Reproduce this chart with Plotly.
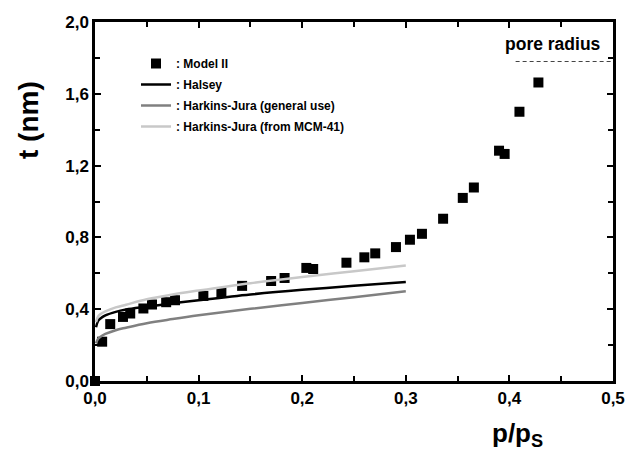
import plotly.graph_objects as go

# Model II data
model_x = [0.0, 0.0069, 0.0147, 0.027, 0.034, 0.0467, 0.055, 0.0687, 0.0772, 0.1046,
           0.122, 0.142, 0.170, 0.183, 0.204, 0.2106, 0.2427, 0.260, 0.2705, 0.2905,
           0.304, 0.3156, 0.336, 0.355, 0.3657, 0.390, 0.3954, 0.4097, 0.428]
model_y = [0.0, 0.219, 0.317, 0.357, 0.376, 0.404, 0.426, 0.439, 0.450, 0.474,
           0.493, 0.530, 0.557, 0.574, 0.630, 0.624, 0.659, 0.689, 0.711, 0.746,
           0.787, 0.820, 0.904, 1.020, 1.078, 1.283, 1.265, 1.500, 1.663]

curve_x = [0.001, 0.003, 0.005, 0.01, 0.02, 0.03, 0.05, 0.075, 0.1, 0.15, 0.2, 0.25, 0.3]
halsey_y = [0.300, 0.335, 0.347, 0.365, 0.385, 0.398, 0.414, 0.433, 0.450, 0.482, 0.508, 0.530, 0.552]
hj_general_y = [0.210, 0.235, 0.245, 0.262, 0.283, 0.297, 0.322, 0.345, 0.366, 0.402, 0.435, 0.467, 0.500]
hj_mcm_y = [0.328, 0.360, 0.372, 0.388, 0.410, 0.425, 0.455, 0.482, 0.504, 0.545, 0.580, 0.612, 0.643]

pore_x = [0.406, 0.5]
pore_y = [1.78, 1.78]

x_ticks = [0.0, 0.1, 0.2, 0.3, 0.4, 0.5]
y_ticks = [0.0, 0.4, 0.8, 1.2, 1.6, 2.0]

FONT = "Liberation Sans"

fig = go.Figure()
fig.add_trace(go.Scatter(x=model_x, y=model_y, mode="markers", name=": Model II",
                         legendgroup="a", cliponaxis=False,
                         marker=dict(symbol="square", size=10, color="black")))
fig.add_trace(go.Scatter(x=curve_x, y=halsey_y, mode="lines", name=": Halsey",
                         legendgroup="b",
                         line=dict(color="black", width=2.5, shape="spline")))
fig.add_trace(go.Scatter(x=curve_x, y=hj_general_y, mode="lines",
                         name=": Harkins-Jura (general use)", legendgroup="c",
                         line=dict(color="#808080", width=2.5, shape="spline")))
fig.add_trace(go.Scatter(x=curve_x, y=hj_mcm_y, mode="lines",
                         name=": Harkins-Jura (from MCM-41)", legendgroup="d",
                         line=dict(color="#c8c8c8", width=2.5, shape="spline")))
fig.add_trace(go.Scatter(x=pore_x, y=pore_y, mode="lines", showlegend=False,
                         line=dict(color="#444444", width=1.2, dash="4px,3px")))

axis_common = dict(showline=True, linecolor="black", linewidth=2.5, mirror="allticks",
                   ticks="inside", ticklen=6, tickwidth=2, tickcolor="black",
                   showgrid=False, zeroline=False, automargin=False,
                   tickfont=dict(family=FONT, size=17, color="black", weight="bold"),
                   tickformat=".1f")

fig.update_xaxes(range=[0, 0.5], tickvals=x_ticks,
                 minor=dict(ticks="inside", ticklen=5, tickwidth=2, tickcolor="black", dtick=0.05),
                 **axis_common)
fig.update_yaxes(range=[0, 2.0], tickvals=y_ticks,
                 minor=dict(ticks="inside", ticklen=5, tickwidth=2, tickcolor="black", dtick=0.2),
                 **axis_common)

fig.add_annotation(text="pore radius", x=0.4417, y=1.88, xref="x", yref="y",
                   showarrow=False, font=dict(family=FONT, size=17.5, color="black", weight="bold"))
fig.add_annotation(text="t (nm)", x=28, y=120, xref="paper", yref="paper",
                   showarrow=False, textangle=-90,
                   font=dict(family=FONT, size=28, color="black", weight="bold"))
fig.add_annotation(text="p/p<sub>S</sub>", x=517, y=434, xref="paper", yref="paper",
                   showarrow=False,
                   font=dict(family=FONT, size=26, color="black", weight="bold"))

# convert pixel annotation coords into paper coords
L, R, T, B = 95, 15, 22, 71
W, H = 628, 452
pw, ph = W - L - R, H - T - B
for a in fig.layout.annotations:
    if a.xref == "paper":
        a.x = (a.x - L) / pw
        a.y = (H - B - a.y) / ph

fig.update_layout(
    width=W, height=H, margin=dict(l=L, r=R, t=T, b=B, autoexpand=False),
    plot_bgcolor="white", paper_bgcolor="white", separators=",.",
    showlegend=True,
    legend=dict(x=(136 - L) / pw, y=1 - (49 - T) / ph, xanchor="left", yanchor="top",
                bgcolor="rgba(0,0,0,0)",
                font=dict(family=FONT, size=12, color="black", weight="bold"),
                itemwidth=30, tracegroupgap=2),
)
for a in fig.layout.annotations:
    a.update(xanchor="center", yanchor="middle")

fig.write_html("out.html", config={"displayModeBar": False},
               post_script="document.body.style.margin='0';"
                           "document.body.style.overflow='hidden';"
                           "document.documentElement.style.overflow='hidden';")
